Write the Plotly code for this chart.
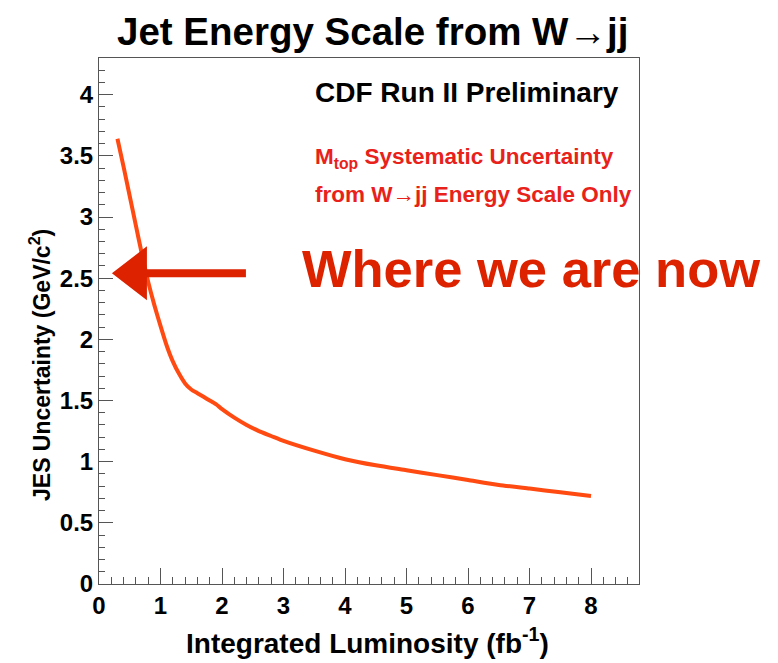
import plotly.graph_objects as go

# Integrated luminosity (fb^-1) and the JES systematic on M_top (GeV/c^2)
lumi = [0.3, 0.4, 0.5, 0.6, 0.7, 0.8, 0.9, 1.0, 1.1, 1.2, 1.3, 1.4, 1.5, 1.6,
        1.7, 1.8, 1.9, 2.0, 2.2, 2.4, 2.6, 2.8, 3.0, 3.5, 4.0, 4.5, 5.0, 5.5,
        6.0, 6.5, 7.0, 7.5, 8.0]
jes_unc = [3.64, 3.41, 3.17, 2.93, 2.69, 2.47, 2.28, 2.11, 1.95, 1.82, 1.72,
           1.64, 1.59, 1.56, 1.53, 1.50, 1.47, 1.43, 1.36, 1.30, 1.25, 1.21,
           1.17, 1.09, 1.02, 0.97, 0.93, 0.89, 0.85, 0.81, 0.78, 0.75, 0.72]

x_ticks = [0, 1, 2, 3, 4, 5, 6, 7, 8]
y_ticks = [0, 0.5, 1, 1.5, 2, 2.5, 3, 3.5, 4]
y_tick_text = ["0", "0.5", "1", "1.5", "2", "2.5", "3", "3.5", "4"]

# "current" luminosity point marked by the arrow
now_lumi = 0.21
now_unc = 2.54

W, H = 778, 663
L, R, T, B = 99, 639, 58, 584  # plot frame in pixels

FONT = "Liberation Sans, Arial, Helvetica, sans-serif"
CURVE = "#ff4a12"
ARROW_RED = "#dd2200"
TEXT_RED = "#e8221a"


def px(xp):
    return (xp - L) / (R - L)


def py(yp):
    return (B - yp) / (B - T)


fig = go.Figure()
fig.add_trace(go.Scatter(
    x=lumi, y=jes_unc, mode="lines",
    line=dict(color=CURVE, width=4, shape="spline", smoothing=0.6),
    hoverinfo="skip", showlegend=False,
))

axis_common = dict(
    showgrid=False, zeroline=False, showline=True, mirror=True,
    linecolor="#555555", linewidth=1, ticks="inside", tickcolor="#555555",
    tickwidth=1,
    tickfont=dict(family=FONT, size=24, color="black", weight="bold"),
)

fig.update_xaxes(
    range=[0, 8.78], tickvals=x_ticks, ticklen=16,
    minor=dict(dtick=0.2, ticks="inside", ticklen=7, tickcolor="#555555"),
    **axis_common,
)
fig.update_yaxes(
    range=[0, 4.3], tickvals=y_ticks, ticktext=y_tick_text, ticklen=14,
    minor=dict(dtick=0.1, ticks="inside", ticklen=6, tickcolor="#555555"),
    **axis_common,
)

annotations = [
    dict(text="<b>Jet Energy Scale from W\u2192jj</b>", x=px(372), y=py(31),
         font=dict(family=FONT, size=38.5, color="black")),
    dict(text="<b>Integrated Luminosity (fb<sup>-1</sup>)</b>", x=px(367), y=py(641),
         font=dict(family=FONT, size=28, color="black")),
    dict(text="<b>JES Uncertainty (GeV/c<sup>2</sup>)</b>", x=px(40), y=py(365),
         textangle=-90, font=dict(family=FONT, size=23, color="black")),
    dict(text="<b>CDF Run II Preliminary</b>", x=px(313), y=py(93),
         xanchor="left", font=dict(family=FONT, size=28, color="black")),
    dict(text="<b>M<sub>top</sub> Systematic Uncertainty</b>", x=px(313), y=py(158),
         xanchor="left", font=dict(family=FONT, size=22.5, color=TEXT_RED)),
    dict(text="<b>from W\u2192jj Energy Scale Only</b>", x=px(313), y=py(194),
         xanchor="left", font=dict(family=FONT, size=22.5, color=TEXT_RED)),
    dict(text="<b>Where we are now</b>", x=px(300), y=py(268),
         xanchor="left", font=dict(family=FONT, size=52.5, color=ARROW_RED)),
]
for a in annotations:
    a.setdefault("xanchor", "center")
    a.update(xref="paper", yref="paper", yanchor="middle", showarrow=False)
fig.update_layout(annotations=annotations)

# Filled arrow pointing at the current luminosity, sized in pixels
fig.add_shape(
    type="path", xref="x", yref="y", xsizemode="pixel", ysizemode="pixel",
    xanchor=now_lumi, yanchor=now_unc,
    path="M 0 0 L 35 27 L 35 4 L 134 4 L 134 -4 L 35 -4 L 35 -27 Z",
    fillcolor=ARROW_RED, line=dict(width=0), layer="above",
)

fig.update_layout(
    width=W, height=H,
    margin=dict(l=L, r=W - R, t=T, b=H - B),
    paper_bgcolor="white", plot_bgcolor="white",
)

fig.write_html("out.html")
